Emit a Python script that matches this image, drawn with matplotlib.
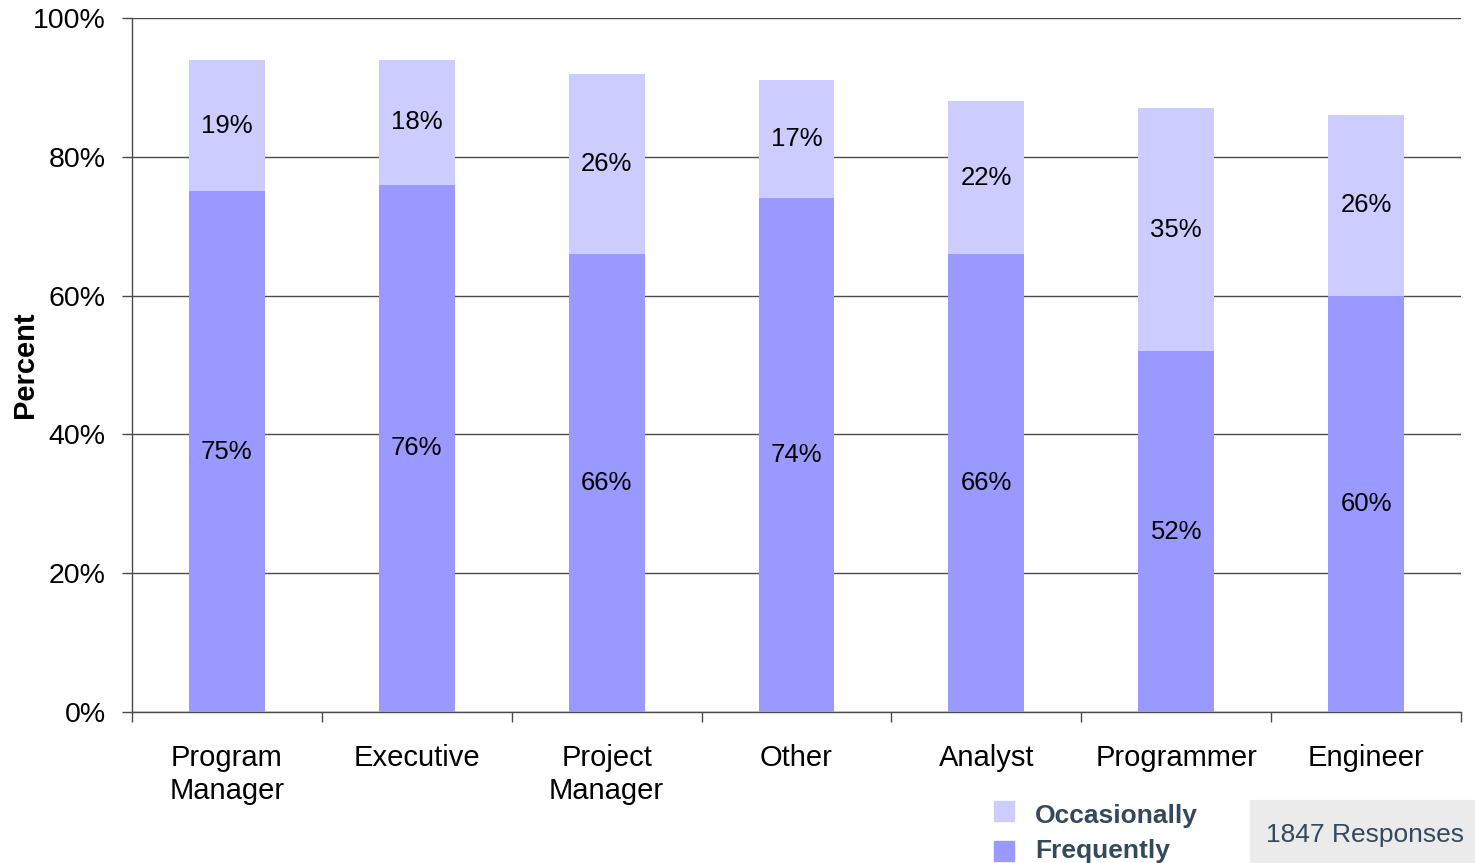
import matplotlib
matplotlib.use("Agg")
import matplotlib.pyplot as plt
import numpy as np
from matplotlib.patches import Rectangle

plt.rcParams['font.family'] = ['Liberation Sans', 'DejaVu Sans']

categories = ["Program\nManager", "Executive", "Project\nManager", "Other", "Analyst", "Programmer", "Engineer"]
frequently = [75, 76, 66, 74, 66, 52, 60]
occasionally = [19, 18, 26, 17, 22, 35, 26]
yticks = [0, 20, 40, 60, 80, 100]
responses_text = "1847 Responses"

c_freq = "#9999ff"
c_occ = "#ccccff"

fig = plt.figure(figsize=(14.75, 8.63), dpi=100)
ax = fig.add_axes([132/1475, 1-712/863, (1461-132)/1475, (712-18)/863])

x = np.arange(len(categories))
ax.bar(x, frequently, width=0.4, color=c_freq, zorder=3)
ax.bar(x, occasionally, width=0.4, bottom=frequently, color=c_occ, zorder=3)

for xi, f, o in zip(x, frequently, occasionally):
    ax.text(xi, f/2, f"{f}%", ha="center", va="center", fontsize=18.5, zorder=4)
    ax.text(xi, f + o/2, f"{o}%", ha="center", va="center", fontsize=18.5, zorder=4)

ax.set_xlim(-0.5, len(categories)-0.5)
ax.set_ylim(0, 100)
ax.set_yticks(yticks)
ax.set_yticklabels([f"{v}%" for v in yticks], fontsize=20.5)
ax.yaxis.grid(True, color="#4a4a4a", linewidth=1, zorder=0)
ax.set_axisbelow(True)
ax.tick_params(axis='y', length=7, width=1, color="#4a4a4a", pad=12)

ax.set_xticks(x)
ax.set_xticklabels(categories, fontsize=21, linespacing=1.25)
ax.tick_params(axis='x', which='major', length=0, pad=23)
ax.set_xticks(np.arange(-0.5, len(categories)), minor=True)
ax.tick_params(axis='x', which='minor', length=7, width=1, color="#4a4a4a")
for lbl in ax.get_xticklabels():
    lbl.set_x(lbl.get_position()[0])

for s in ['top', 'right']:
    ax.spines[s].set_visible(False)
for s in ['left', 'bottom']:
    ax.spines[s].set_color("#4a4a4a")
    ax.spines[s].set_linewidth(1)

fig.text(25/1475, 1-365/863, "Percent", fontsize=21, fontweight="bold",
         rotation=90, ha="center", va="center")

# legend
leg_color = "#34495e"
fig.patches.append(Rectangle((994/1475, 1-821/863), 20/1475, 20/863, transform=fig.transFigure, color=c_occ))
fig.patches.append(Rectangle((994/1475, 1-861/863), 20/1475, 20/863, transform=fig.transFigure, color=c_freq))
fig.text(1035/1475, 1-816/863, "Occasionally", fontsize=19, fontweight="bold", color=leg_color, va="center")
fig.text(1035/1475, 1-851/863, "Frequently", fontsize=19, fontweight="bold", color=leg_color, va="center")

# responses box
fig.patches.append(Rectangle((1250/1475, 0), (1475-1250)/1475, 63/863, transform=fig.transFigure, color="#ebebeb"))
fig.text(1365/1475, 1-835/863, responses_text, fontsize=19, color=leg_color, ha="center", va="center")

fig.savefig("out.png", dpi=100)
